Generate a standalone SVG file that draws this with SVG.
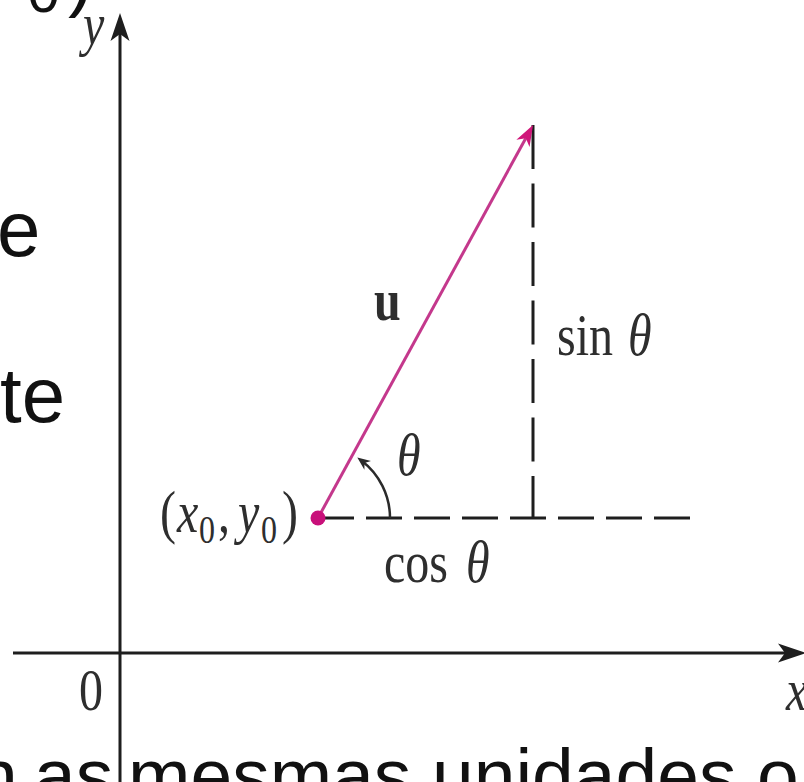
<svg xmlns="http://www.w3.org/2000/svg" width="804" height="782" viewBox="0 0 804 782">
  <style>
    .page { font-family: "Liberation Sans", Arial, sans-serif; fill: #111; }
    .lbl { font-family: "Liberation Serif", "Times New Roman", serif; font-size: 48px; fill: #2e2e2e; }
    .it { font-style: italic; }
    .sub { font-size: 32px; }
    .axis { stroke: #1e1e1e; stroke-width: 3; fill: none; }
    .dash { stroke: #1e1e1e; stroke-width: 3; fill: none; }
    .vec { stroke: #c4388c; stroke-width: 3; fill: none; }
    .arc { stroke: #2a2a2a; stroke-width: 2.5; fill: none; }
  </style>
  <defs>
    <marker id="axisHead" markerUnits="userSpaceOnUse" viewBox="-30 -11 32 22" markerWidth="32" markerHeight="22" refX="-8" refY="0" orient="auto">
      <path d="M0,0 L-28,-9.5 L-21,0 L-28,9.5 Z" fill="#1e1e1e"/>
    </marker>
    <marker id="vecHead" markerUnits="userSpaceOnUse" viewBox="-22 -8 24 16" markerWidth="24" markerHeight="16" refX="-8" refY="0" orient="auto">
      <path d="M0,0 L-21,-7.5 L-15,0 L-21,7.5 Z" fill="#d0167a"/>
    </marker>
    <marker id="arcHead" markerUnits="userSpaceOnUse" viewBox="-14 -6 16 12" markerWidth="16" markerHeight="12" refX="-5" refY="0" orient="auto">
      <path d="M0,0 L-13,-5.5 L-9,0 L-13,5.5 Z" fill="#2a2a2a"/>
    </marker>
  </defs>
  <rect width="804" height="782" fill="#ffffff"/>

  <!-- page text fragments around the figure -->
  <g id="page-text">
    <text class="page" x="27.5" y="12" font-size="58">0</text>
    <text class="page" x="68" y="2" font-size="76">)</text>
    <text class="page" x="-3" y="256" font-size="78">e</text>
    <text class="page" x="0" y="422" font-size="78">te</text>
    <text class="page" y="801" font-size="75"><tspan x="-24">n</tspan><tspan x="34">as</tspan><tspan x="128">mesmas</tspan><tspan x="432">unidades</tspan><tspan x="757">o</tspan></text>
  </g>

  <!-- connectors: axes, vector, components, angle arc -->
  <g id="connectors">
    <g id="axes">
      <line class="axis" x1="120" y1="782" x2="120" y2="21" marker-end="url(#axisHead)"/>
      <line class="axis" x1="13" y1="653" x2="798" y2="653" marker-end="url(#axisHead)"/>
    </g>
    <g id="components">
      <line class="dash" x1="318" y1="518" x2="690" y2="518" stroke-dasharray="36 12"/>
      <line class="dash" x1="533" y1="125" x2="533" y2="518" stroke-dasharray="44 14.5"/>
    </g>
    <g id="vector-u">
      <line class="vec" x1="318" y1="518" x2="529.2" y2="132" marker-end="url(#vecHead)"/>
    </g>
    <g id="angle">
      <path class="arc" d="M390,518 A72,72 0 0 0 361.3,460.5" marker-end="url(#arcHead)"/>
    </g>
  </g>

  <!-- nodes -->
  <g id="point-x0y0">
    <circle cx="318" cy="518" r="7.5" fill="#c8107a"/>
  </g>

  <g id="labels">
    <g id="label-y" transform="translate(83,44) scale(1,1.22)"><text class="lbl it">y</text></g>
    <g id="label-x" transform="translate(786,710) scale(1,1.22)"><text class="lbl it">x</text></g>
    <g id="label-origin" transform="translate(79,710) scale(1,1.22)"><text class="lbl">0</text></g>
    <g id="label-u" transform="translate(374,320) scale(1,1.22)"><text class="lbl" font-weight="bold">u</text></g>
    <g id="label-theta" transform="translate(397,475) scale(1,1.22)"><text class="lbl it">θ</text></g>
    <g id="label-sin" transform="translate(557,355) scale(1,1.22)"><text class="lbl">sin<tspan class="it" x="71">θ</tspan></text></g>
    <g id="label-cos" transform="translate(384,582) scale(1,1.22)"><text class="lbl">cos<tspan class="it" x="82">θ</tspan></text></g>
    <g id="label-point" transform="translate(160,532) scale(1,1.22)">
      <text class="lbl"><tspan x="0">(</tspan><tspan class="it" x="17">x</tspan><tspan class="sub" x="39" dy="9">0</tspan><tspan x="58" dy="-9">,</tspan><tspan class="it" x="78">y</tspan><tspan class="sub" x="101" dy="9">0</tspan><tspan x="122" dy="-9">)</tspan></text>
    </g>
  </g>
</svg>
